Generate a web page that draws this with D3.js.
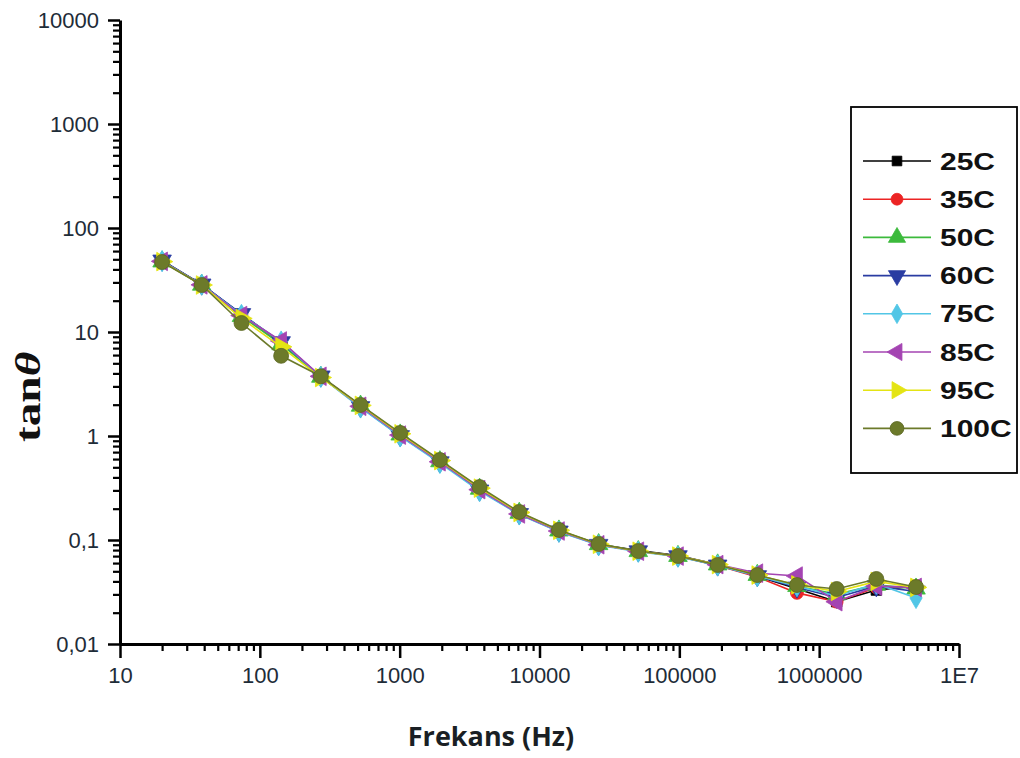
<!DOCTYPE html>
<html>
<head>
<meta charset="utf-8">
<script src="https://cdn.jsdelivr.net/npm/d3@7"></script>
<style>
  html, body { margin: 0; padding: 0; background: #fff; }
  svg { display: block; }
</style>
</head>
<body>
<svg id="chart" width="1020" height="758"></svg>
<script>
// ---- data ----
const freq = [20, 38.4, 73.9, 142, 273, 525, 1009, 1940, 3728, 7165, 13770, 26470, 50870, 97770, 187900, 361100, 694000, 1334000, 2564000, 4928000];
const seriesNames = ["25C", "35C", "50C", "60C", "75C", "85C", "95C", "100C"];
const t25  = [48.5, 28.6, 14.8, 7.9, 3.70, 1.96, 1.04, 0.575, 0.310, 0.182, 0.123, 0.091, 0.079, 0.071, 0.058, 0.045, 0.034, 0.0255, 0.033, 0.036];
const t35  = [48.0, 28.5, 14.5, 7.8, 3.70, 1.95, 1.03, 0.570, 0.305, 0.180, 0.122, 0.090, 0.078, 0.070, 0.057, 0.044, 0.031, 0.0255, 0.035, 0.036];
const t50  = [47.5, 28.4, 14.2, 7.6, 3.70, 1.95, 1.03, 0.570, 0.310, 0.182, 0.123, 0.091, 0.078, 0.070, 0.058, 0.046, 0.036, 0.030, 0.037, 0.034];
const t60  = [48.8, 28.7, 14.9, 8.0, 3.75, 1.90, 1.00, 0.560, 0.300, 0.178, 0.121, 0.090, 0.078, 0.070, 0.057, 0.045, 0.035, 0.028, 0.036, 0.032];
const t75  = [48.0, 28.5, 14.6, 8.1, 3.70, 1.88, 0.99, 0.550, 0.295, 0.176, 0.120, 0.089, 0.077, 0.069, 0.057, 0.045, 0.036, 0.029, 0.038, 0.0277];
const t85  = [47.8, 28.4, 14.4, 8.2, 3.75, 1.93, 1.02, 0.565, 0.305, 0.178, 0.122, 0.090, 0.078, 0.070, 0.058, 0.048, 0.045, 0.0255, 0.036, 0.035];
const t95  = [47.5, 28.3, 13.5, 7.2, 3.65, 1.97, 1.05, 0.580, 0.315, 0.184, 0.124, 0.091, 0.078, 0.070, 0.058, 0.046, 0.037, 0.032, 0.040, 0.035];
const t100 = [47.1, 28.3, 12.2, 5.9, 3.75, 1.99, 1.07, 0.588, 0.323, 0.186, 0.125, 0.0916, 0.0783, 0.0702, 0.0575, 0.046, 0.0369, 0.0338, 0.0422, 0.0353];
const seriesValues = [t25, t35, t50, t60, t75, t85, t95, t100];
const xTickValues = [10, 100, 1000, 10000, 100000, 1000000, 10000000];
const xTickLabels = ["10", "100", "1000", "10000", "100000", "1000000", "1E7"];
const yTickValues = [0.01, 0.1, 1, 10, 100, 1000, 10000];
const yTickLabels = ["0,01", "0,1", "1", "10", "100", "1000", "10000"];
const xTitle = "Frekans (Hz)";

// ---- styles ----
const colors = ["#000000", "#ec2424", "#3cba3c", "#2a3ca2", "#52c6e6", "#a444b2", "#e4e414", "#6c7a2a"];
const symbols = [d3.symbolSquare, d3.symbolCircle, d3.symbolTriangle, "down", d3.symbolDiamond, "left", "right", d3.symbolCircle];

const svg = d3.select("#chart");
const L = 120, R = 959, T = 20, B = 644;
const x = d3.scaleLog().domain([10, 1e7]).range([L, R]);
const y = d3.scaleLog().domain([0.01, 10000]).range([B, T]);

function minorTicks(lo, hi) {
  const out = [];
  for (let d = lo; d < hi; d *= 10) for (let k = 2; k <= 9; k++) out.push(d * k);
  return out;
}

const tickColor = "#1e2c38";
// minor axes
svg.append("g").attr("transform", `translate(0,${B})`)
  .call(d3.axisBottom(x).tickValues(minorTicks(10, 1e7)).tickSize(7).tickFormat(""))
  .call(g => g.select(".domain").remove())
  .call(g => g.selectAll("line").attr("stroke", "#000").attr("stroke-width", 2.2));
svg.append("g").attr("transform", `translate(${L},0)`)
  .call(d3.axisLeft(y).tickValues(minorTicks(0.01, 10000)).tickSize(7).tickFormat(""))
  .call(g => g.select(".domain").remove())
  .call(g => g.selectAll("line").attr("stroke", "#000").attr("stroke-width", 2.2));

// major axes
const xAxis = svg.append("g").attr("transform", `translate(0,${B})`)
  .call(d3.axisBottom(x).tickValues(xTickValues).tickSize(14).tickSizeOuter(0).tickPadding(9)
    .tickFormat((d, i) => xTickLabels[i]));
const yAxis = svg.append("g").attr("transform", `translate(${L},0)`)
  .call(d3.axisLeft(y).tickValues(yTickValues).tickSize(12).tickSizeOuter(0).tickPadding(9)
    .tickFormat((d, i) => yTickLabels[i]));
[xAxis, yAxis].forEach(g => {
  g.select(".domain").attr("stroke", "#000").attr("stroke-width", 3);
  g.selectAll(".tick line").attr("stroke", "#000").attr("stroke-width", 2.5);
  g.selectAll(".tick text").attr("fill", tickColor)
    .style("font-family", "'Liberation Sans', Arial, sans-serif").style("font-size", "22px");
});

// series
function symPath(s, size) {
  if (s === "down" || s === "left" || s === "right") return d3.symbol(d3.symbolTriangle, size)();
  return d3.symbol(s, size)();
}
function symRot(s) {
  if (s === "down") return 180;
  if (s === "left") return -90;
  if (s === "right") return 90;
  return 0;
}
const markerSize = [110, 130, 150, 150, 130, 150, 150, 175];
const line = d3.line().x(d => x(d[0])).y(d => y(d[1]));
seriesValues.forEach((vals, si) => {
  const pts = freq.map((f, i) => [f, vals[i]]);
  const g = svg.append("g");
  g.append("path").attr("d", line(pts)).attr("fill", "none")
    .attr("stroke", colors[si]).attr("stroke-width", 1.6);
  g.selectAll("path.m").data(pts).join("path").attr("class", "m")
    .attr("d", symPath(symbols[si], markerSize[si]))
    .attr("transform", d => `translate(${x(d[0])},${y(d[1])}) rotate(${symRot(symbols[si])})`)
    .attr("fill", colors[si])
    .attr("stroke", si === 7 ? "#5a6622" : colors[si]).attr("stroke-width", 0.8);
});

// legend
const lg = svg.append("g");
lg.append("rect").attr("x", 851).attr("y", 107).attr("width", 166).attr("height", 366)
  .attr("fill", "#fff").attr("stroke", "#000").attr("stroke-width", 1.8);
seriesNames.forEach((name, i) => {
  const cy = 161 + i * 38.2;
  lg.append("line").attr("x1", 863).attr("x2", 931).attr("y1", cy).attr("y2", cy)
    .attr("stroke", colors[i]).attr("stroke-width", 1.6);
  lg.append("path").attr("d", symPath(symbols[i], markerSize[i] * 0.85))
    .attr("transform", `translate(897,${cy}) rotate(${symRot(symbols[i])})`)
    .attr("fill", colors[i]).attr("stroke", i === 7 ? "#5a6622" : colors[i]).attr("stroke-width", 0.8);
  lg.append("text").attr("transform", `translate(940,${cy + 8.5}) scale(1.25,1)`)
    .text(name).attr("fill", "#111")
    .style("font-family", "'Liberation Sans', Arial, sans-serif").style("font-weight", "bold").style("font-size", "24px");
});

// titles
svg.append("text").attr("x", 491).attr("y", 746).attr("text-anchor", "middle")
  .attr("fill", "#1a1f24")
  .style("font-family", "'Open Sans', sans-serif").style("font-weight", "bold").style("font-size", "27px")
  .text(xTitle);
const yt = svg.append("text").attr("transform", "translate(40,442) rotate(-90) scale(1.35,1)")
  .attr("fill", "#111")
  .style("font-family", "'Liberation Serif', 'Times New Roman', serif").style("font-weight", "bold").style("font-size", "35px");
yt.append("tspan").text("tan");
yt.append("tspan").style("font-style", "italic").text("θ");
</script>
</body>
</html>
